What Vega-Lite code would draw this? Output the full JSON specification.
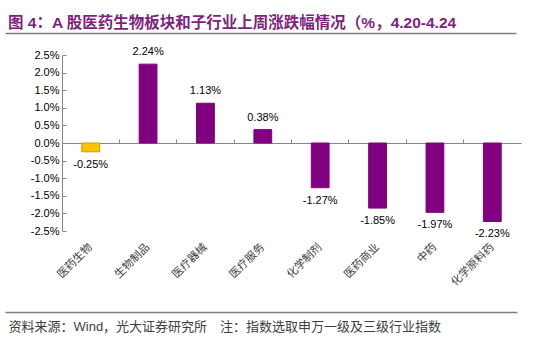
{
  "$schema": "https://vega.github.io/schema/vega-lite/v6.json",
  "width": 459,
  "height": 176,
  "autosize": {"type": "none"},
  "padding": {"left": 62, "top": 55, "right": 29, "bottom": 112},
  "background": "white",
  "config": {
    "view": {"stroke": null},
    "font": "Liberation Sans, Noto Sans CJK SC",
    "axis": {"labelFont": "Liberation Sans, Noto Sans CJK SC", "titleFont": "Liberation Sans, Noto Sans CJK SC"},
    "axisY": {"labelOverlap": false, "labelBound": false}
  },
  "title": {
    "text": "图 4：A 股医药生物板块和子行业上周涨跌幅情况（%，4.20-4.24",
    "anchor": "start",
    "frame": "group",
    "dx": -54,
    "offset": 20,
    "dy": 30,
    "baseline": "alphabetic",
    "fontSize": 15.5,
    "fontWeight": "bold",
    "font": "Liberation Sans, Noto Sans CJK SC",
    "color": "#7F1F80"
  },
  "data": {
    "values": [
      {"cat": "医药生物", "v": -0.25},
      {"cat": "生物制品", "v": 2.24},
      {"cat": "医疗器械", "v": 1.13},
      {"cat": "医疗服务", "v": 0.38},
      {"cat": "化学制剂", "v": -1.27},
      {"cat": "医药商业", "v": -1.85},
      {"cat": "中药", "v": -1.97},
      {"cat": "化学原料药", "v": -2.23}
    ]
  },
  "transform": [
    {"calculate": "(datum.v < 0 ? '-' : '') + format(abs(datum.v), '.2f') + '%'", "as": "label"}
  ],
  "layer": [
    {
      "layer": [
        {
          "mark": {"type": "bar", "width": {"band": 0.31}, "strokeWidth": 1},
          "encoding": {
            "x": {
              "field": "cat", "type": "nominal", "sort": null,
              "scale": {"paddingInner": 0, "paddingOuter": 0},
              "axis": {
                "offset": -88,
                "bandPosition": 0,
                "domainColor": "#868686",
                "tickColor": "#868686",
                "tickSize": -4,
                "labelAngle": -45,
                "labelAlign": "right",
                "labelBaseline": "middle",
                "labelPadding": 106,
                "labelFontSize": 11,
                "labelColor": "#404040",
                "labelOverlap": false,
                "title": "资料来源：Wind，光大证券研究所　注：指数选取申万一级及三级行业指数",
                "titleX": -54,
                "titleY": 187,
                "titleAlign": "left",
                "titleAnchor": "start",
                "titleBaseline": "alphabetic",
                "titleFontSize": 13,
                "titleFontWeight": "normal",
                "titleColor": "#404040"
              }
            },
            "y": {
              "field": "v", "type": "quantitative",
              "scale": {"domain": [-2.5, 2.5], "nice": false, "zero": false},
              "axis": {
                "values": [-2.5, -2, -1.5, -1, -0.5, 0, 0.5, 1, 1.5, 2, 2.5],
                "tickCount": 11,
                "labelExpr": "(datum.value < 0 ? '-' : '') + format(abs(datum.value), '.1f') + '%'",
                "labelOverlap": false,
                "grid": false,
                "domainColor": "#868686",
                "tickColor": "#868686",
                "tickSize": -4,
                "labelPadding": 7,
                "labelFontSize": 11,
                "labelColor": "#000000",
                "title": null
              }
            },
            "color": {
              "condition": {"test": "datum.cat === '医药生物'", "value": "#FFC000"},
              "value": "#800080"
            },
            "stroke": {
              "condition": {"test": "datum.cat === '医药生物'", "value": "#D99A00"},
              "value": "#800080"
            }
          }
        },
        {
          "transform": [{"filter": "datum.v >= 0"}],
          "mark": {"type": "text", "baseline": "alphabetic", "dy": -9, "fontSize": 11, "color": "#000000", "font": "Liberation Sans"},
          "encoding": {
            "x": {"field": "cat", "type": "nominal", "sort": null},
            "y": {"field": "v", "type": "quantitative"},
            "text": {"field": "label"}
          }
        },
        {
          "transform": [{"filter": "datum.v < 0"}],
          "mark": {"type": "text", "baseline": "top", "dy": 7, "fontSize": 11, "color": "#000000", "font": "Liberation Sans"},
          "encoding": {
            "x": {"field": "cat", "type": "nominal", "sort": null},
            "y": {"field": "v", "type": "quantitative"},
            "text": {"field": "label"}
          }
        }
      ]
    },
    {
      "mark": {"type": "point", "opacity": 0},
      "encoding": {
        "x": {
          "field": "v", "type": "quantitative",
          "scale": {"domain": [0, 1], "range": [-57, 454]},
          "axis": {"orient": "top", "offset": 22, "domainColor": "#808080", "domainWidth": 1.5, "ticks": false, "labels": false, "title": null, "grid": false}
        }
      }
    },
    {
      "mark": {"type": "point", "opacity": 0},
      "encoding": {
        "x": {
          "field": "v", "type": "quantitative",
          "scale": {"domain": [0, 1], "range": [-57, 455]},
          "axis": {"orient": "bottom", "offset": 81, "domainColor": "#808080", "domainWidth": 1.5, "ticks": false, "labels": false, "title": null, "grid": false}
        }
      }
    }
  ],
  "resolve": {"scale": {"x": "independent"}, "axis": {"x": "independent"}}
}
